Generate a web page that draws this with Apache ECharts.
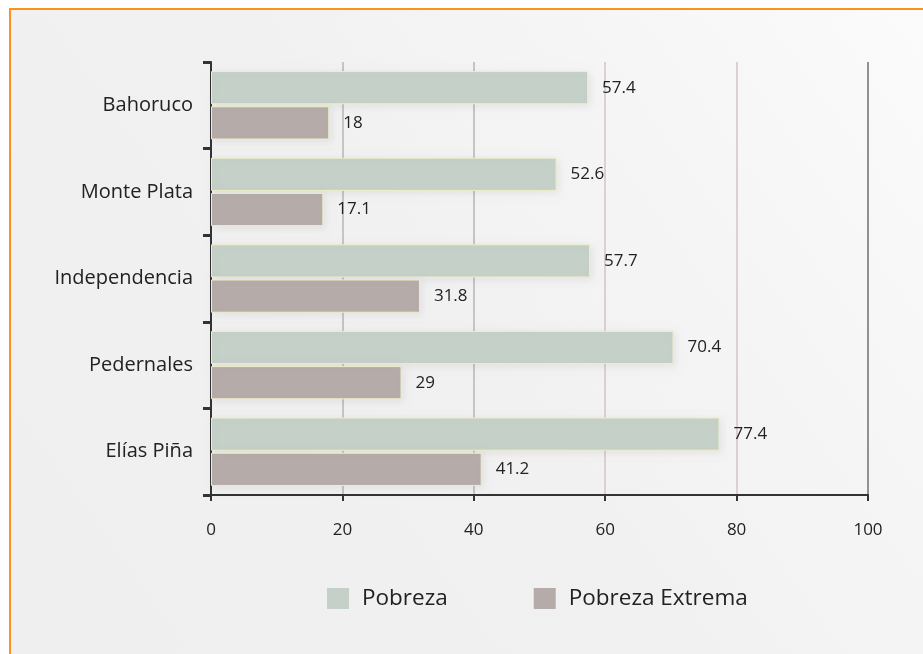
<!DOCTYPE html>
<html>
<head>
<meta charset="utf-8">
<script src="https://cdn.jsdelivr.net/npm/echarts@6/dist/echarts.min.js"></script>
<style>
html,body{margin:0;padding:0;background:#fff;}
#chart{width:923px;height:654px;}
</style>
</head>
<body>
<div id="chart"></div>
<script>
const categories = ['Bahoruco', 'Monte Plata', 'Independencia', 'Pedernales', 'Elías Piña'];
const pobreza = [57.4, 52.6, 57.7, 70.4, 77.4];
const pobrezaExtrema = [18, 17.1, 31.8, 29, 41.2];
const seriesNames = ['Pobreza', 'Pobreza Extrema'];
const xTicks = [0, 20, 40, 60, 80, 100];

const FONT = '"Open Sans", sans-serif';
const chart = echarts.init(document.getElementById('chart'));

const barStyle = (color) => ({
  color: color,
  borderColor: '#eeeec8',
  borderWidth: 1,
  shadowBlur: 8,
  shadowColor: 'rgba(0,0,0,0.07)',
  shadowOffsetX: 2,
  shadowOffsetY: 2
});
const labelStyle = { show: true, position: 'right', distance: 14, fontSize: 17, color: '#222', fontFamily: FONT };

const option = {
  backgroundColor: '#ffffff',
  animation: false,
  textStyle: { fontFamily: FONT },
  graphic: [{
    type: 'rect',
    z: -10,
    silent: true,
    shape: { x: 10, y: 9, width: 940, height: 670 },
    style: {
      fill: new echarts.graphic.LinearGradient(0, 1, 1, 0, [
        { offset: 0, color: '#efefef' },
        { offset: 0.5, color: '#f1f1f1' },
        { offset: 1, color: '#fbfbfb' }
      ]),
      stroke: '#f7931e',
      lineWidth: 2
    }
  }],
  grid: { left: 211, right: 55, top: 62, bottom: 159, containLabel: false },
  legend: {
    data: seriesNames,
    top: 582,
    left: 322,
    icon: 'rect',
    itemWidth: 22,
    itemHeight: 21,
    itemGap: 86,
    itemStyle: { borderWidth: 0, shadowBlur: 0 },
    textStyle: { fontSize: 22.5, color: '#222', fontFamily: FONT, padding: [0, 0, 0, 8] }
  },
  xAxis: {
    type: 'value',
    min: xTicks[0],
    max: xTicks[xTicks.length - 1],
    interval: 20,
    axisLine: { show: true, lineStyle: { color: '#333', width: 2 } },
    axisTick: { show: true, length: 6, lineStyle: { color: '#333', width: 2 } },
    axisLabel: { fontSize: 17, color: '#222', margin: 27, fontFamily: FONT },
    splitLine: {
      show: true,
      lineStyle: {
        color: ['#bdb3b3', '#bdb3b3', '#bdb3b3', '#d4c3c6', '#d4c3c6', '#6f6f6f'],
        width: 1.5
      }
    }
  },
  yAxis: {
    type: 'category',
    inverse: true,
    data: categories,
    axisLine: { show: true, lineStyle: { color: '#333', width: 2 } },
    axisTick: { show: true, length: 8, alignWithLabel: false, lineStyle: { color: '#333', width: 3 } },
    axisLabel: { fontSize: 20, color: '#222', margin: 18, fontFamily: FONT },
    splitLine: { show: false }
  },
  series: [
    {
      name: seriesNames[0],
      type: 'bar',
      data: pobreza,
      barGap: '6%',
      barCategoryGap: '21%',
      itemStyle: barStyle('#c5d0c8'),
      label: labelStyle
    },
    {
      name: seriesNames[1],
      type: 'bar',
      data: pobrezaExtrema,
      barGap: '6%',
      barCategoryGap: '21%',
      itemStyle: barStyle('#b5aba8'),
      label: labelStyle
    }
  ]
};
chart.setOption(option);
</script>
</body>
</html>
